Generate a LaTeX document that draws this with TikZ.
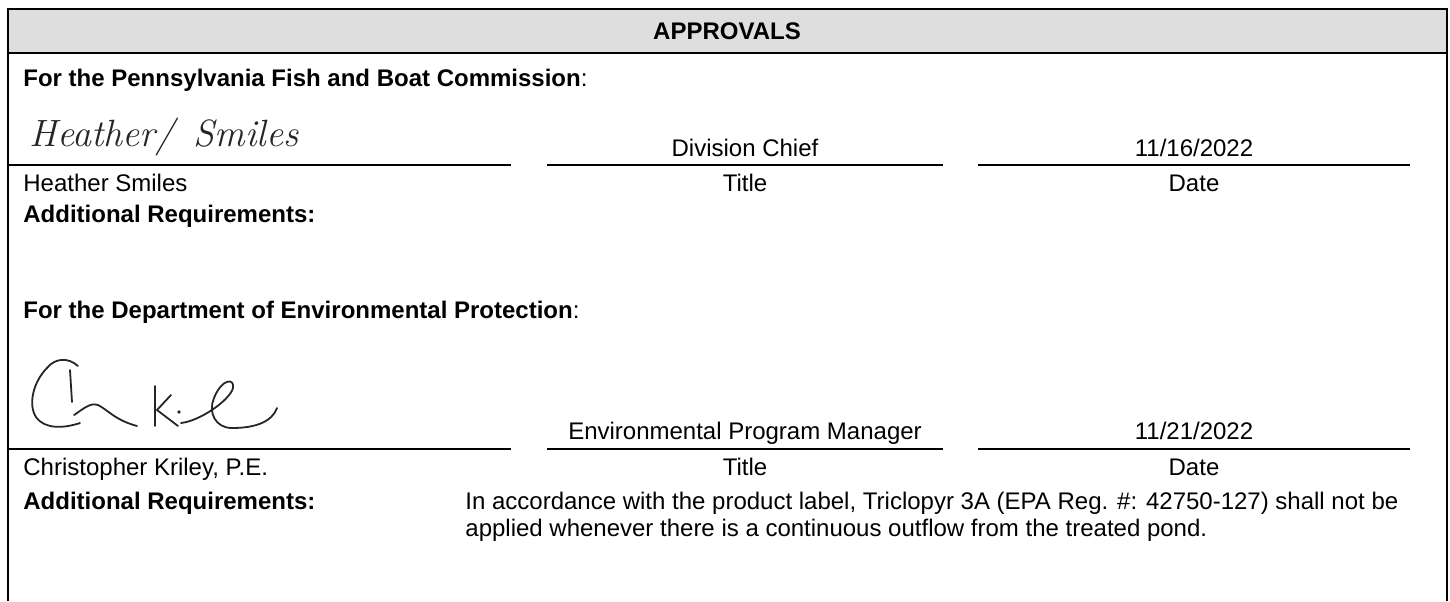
\documentclass[tikz,border=0pt]{standalone}
\usepackage{fontspec}
\newfontfamily\arial{Liberation Sans}
\begin{document}
\begin{tikzpicture}[x=0.5pt,y=-0.5pt,
  lbl/.style={font=\arial\fontsize{12}{14}\selectfont, inner sep=0pt},
  blbl/.style={font=\arial\bfseries\fontsize{12}{14}\selectfont, inner sep=0pt},
  rule/.style={line width=1pt},
  sig/.style={line width=0.9pt, color=black!85, line cap=round, line join=round}]
\useasboundingbox (0,0) rectangle (1450,601);
% header
\fill[black!13] (7.5,9) rectangle (1446.5,53);
\draw[rule] (7.5,601) -- (7.5,9) -- (1446.5,9) -- (1446.5,601);
\draw[rule] (7.5,53) -- (1446.5,53);
\node[blbl, anchor=base] (hdr) at (727,39.5) {APPROVALS};
% PFBC
\node[blbl, anchor=base west] (pfbc) at (23,86.5) {For the Pennsylvania Fish and Boat Commission\textmd{:}};
\node[font=\itshape\fontsize{19}{22}\selectfont, color=black!85, anchor=base west, inner sep=0pt] (sig1) at (29,146) {Heather/ \,Smiles};
\node[lbl, anchor=base] (t1) at (745,156.5) {Division Chief};
\node[lbl, anchor=base] (d1) at (1194,156.5) {11/16/2022};
\draw[rule] (7.5,165) -- (511,165);
\draw[rule] (547,165) -- (943,165);
\draw[rule] (978,165) -- (1410,165);
\node[lbl, anchor=base west] (n1) at (23,191.5) {Heather Smiles};
\node[lbl, anchor=base] (tl1) at (745,191.5) {Title};
\node[lbl, anchor=base] (dl1) at (1194,191.5) {Date};
\node[blbl, anchor=base west] (ar1) at (23,222) {Additional Requirements:};
% DEP
\node[blbl, anchor=base west] (dep) at (23,318.5) {For the Department of Environmental Protection\textmd{:}};
% signature 2
\draw[sig] (78,366) .. controls (68,357) and (55,358) .. (47,368)
  .. controls (33,382) and (28,405) .. (36,417)
  .. controls (45,430) and (65,428) .. (80,423);
\draw[sig] (70,370) -- (72,402);
\draw[sig] (74,415) .. controls (82,410) and (90,402) .. (98,405)
  .. controls (108,410) and (115,420) .. (137,426);
\draw[sig] (155,386) -- (155,426);
\draw[sig] (171,395) -- (157,410) -- (178,426);
\fill[black!85] (179,412) circle (1.8);
\draw[sig] (181,423) .. controls (200,421) and (230,400) .. (233,388)
  .. controls (235,378) and (222,378) .. (214,398)
  .. controls (208,412) and (215,428) .. (232,428)
  .. controls (255,428) and (272,422) .. (277,408);
\node[lbl, anchor=base] (t2) at (745,439.5) {Environmental Program Manager};
\node[lbl, anchor=base] (d2) at (1194,439.5) {11/21/2022};
\draw[rule] (7.5,449) -- (511,449);
\draw[rule] (547,449) -- (943,449);
\draw[rule] (978,449) -- (1410,449);
\node[lbl, anchor=base west] (n2) at (23,475.5) {Christopher Kriley, P.E.};
\node[lbl, anchor=base] (tl2) at (745,475.5) {Title};
\node[lbl, anchor=base] (dl2) at (1194,475.5) {Date};
\node[blbl, anchor=base west] (ar2) at (23,509) {Additional Requirements:};
\node[lbl, anchor=base west] (acc1) at (465,509) {In accordance with the product label, Triclopyr 3A (EPA Reg. \#: 42750-127) shall not be};
\node[lbl, anchor=base west] (acc2) at (465,536) {applied whenever there is a continuous outflow from the treated pond.};
\end{tikzpicture}
\end{document}
